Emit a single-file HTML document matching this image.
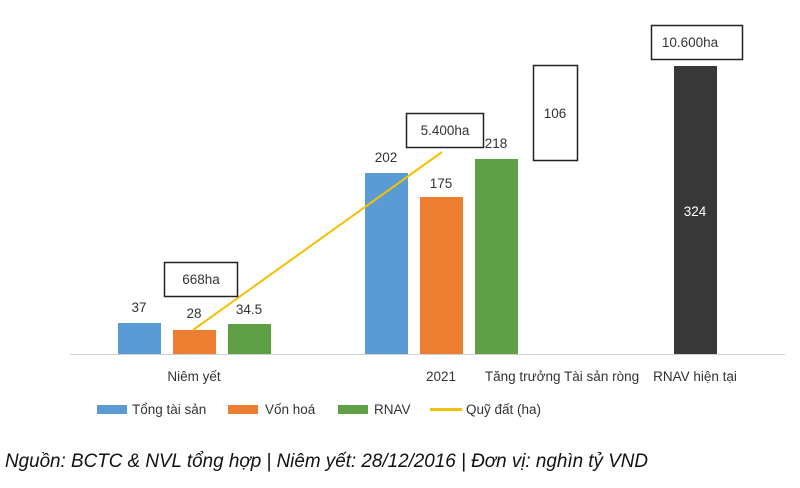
<!DOCTYPE html>
<html><head><meta charset="utf-8"><style>
body{margin:0;background:#fff;}
svg text{font-family:"Liberation Sans",sans-serif;}
</style></head><body>
<svg width="800" height="483" xmlns="http://www.w3.org/2000/svg">
<rect width="800" height="483" fill="#fff"/>
<line x1="70" y1="354.5" x2="785" y2="354.5" stroke="#d0d0d0" stroke-width="1"/>
<g>
<rect x="118" y="323" width="43" height="31" fill="#5b9bd5"/>
<rect x="173" y="330" width="43" height="24" fill="#ed7d31"/>
<rect x="228" y="324" width="43" height="30" fill="#5fa046"/>
<rect x="365" y="173" width="43" height="181" fill="#5b9bd5"/>
<rect x="420" y="197" width="43" height="157" fill="#ed7d31"/>
<rect x="475" y="159" width="43" height="195" fill="#5fa046"/>
<rect x="674" y="66" width="43" height="288" fill="#383838"/>
</g>
<line x1="193" y1="330" x2="442" y2="152" stroke="#f5c000" stroke-width="2"/>
<g fill="#fff" stroke="#222" stroke-width="1.5">
<rect x="164.5" y="262.5" width="73" height="34"/>
<rect x="406.5" y="113.5" width="77" height="34"/>
<rect x="533.5" y="65.5" width="44" height="95"/>
<rect x="651.5" y="25.5" width="91" height="34"/>
</g>
<g font-size="13.5" fill="#333" text-anchor="middle">
<text x="201" y="284">668ha</text>
<text x="445" y="135">5.400ha</text>
<text x="555" y="118">106</text>
<text x="690" y="47">10.600ha</text>
<text x="139" y="312">37</text>
<text x="194" y="318">28</text>
<text x="249" y="314">34.5</text>
<text x="386" y="162">202</text>
<text x="441" y="188">175</text>
<text x="496" y="148">218</text>
<text x="695" y="216" fill="#fff">324</text>
<text x="194" y="381">Niêm yết</text>
<text x="441" y="381">2021</text>
<text x="562" y="381">Tăng trưởng Tài sản ròng</text>
<text x="695" y="381">RNAV hiện tại</text>
</g>
<g font-size="13.5" fill="#333">
<rect x="97" y="405" width="30" height="9" fill="#5b9bd5"/><text x="132" y="414">Tổng tài sản</text>
<rect x="228" y="405" width="30" height="9" fill="#ed7d31"/><text x="265" y="414">Vốn hoá</text>
<rect x="338" y="405" width="30" height="9" fill="#5fa046"/><text x="374" y="414">RNAV</text>
<line x1="430" y1="409.5" x2="462" y2="409.5" stroke="#f5c000" stroke-width="3"/><text x="466" y="414">Quỹ đất (ha)</text>
</g>
<text x="5" y="467" font-size="19" font-style="italic" fill="#111" textLength="643" lengthAdjust="spacingAndGlyphs">Nguồn: BCTC &amp; NVL tổng hợp | Niêm yết: 28/12/2016 | Đơn vị: nghìn tỷ VND</text>
</svg>
</body></html>
